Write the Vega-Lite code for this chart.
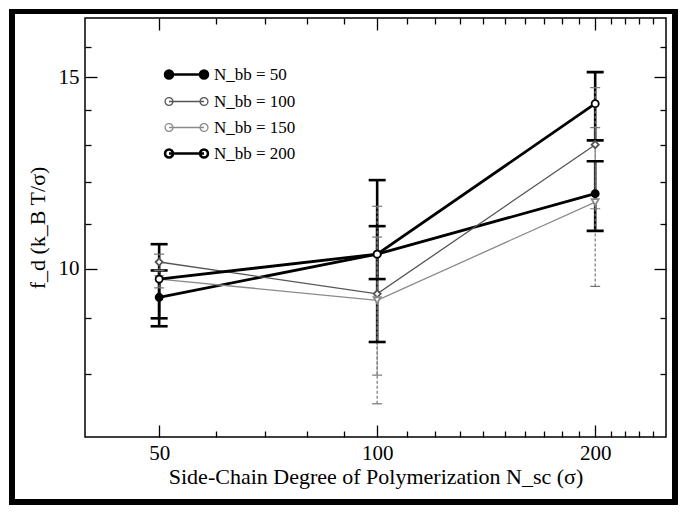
{
  "$schema": "https://vega.github.io/schema/vega-lite/v6.json",
  "width": 581,
  "height": 419,
  "autosize": {"type": "none"},
  "padding": {"left": 85, "top": 18, "right": 16, "bottom": 77},
  "background": "white",
  "config": {
    "view": {"stroke": "black", "strokeWidth": 1.5},
    "font": "Liberation Serif",
    "axis": {
      "labelFont": "Liberation Serif", "titleFont": "Liberation Serif",
      "labelFontSize": 21, "titleFontSize": 22, "labelColor": "black", "titleColor": "black",
      "tickColor": "black", "tickWidth": 1.3, "grid": false, "domain": false, "titleFontWeight": "normal"
    }
  },
  "data": {"values": [
    {"Nbb": "50", "Nsc": 50, "fd": 9.41, "lo": 8.85, "hi": 9.96},
    {"Nbb": "50", "Nsc": 100, "fd": 10.31, "lo": 9.78, "hi": 10.94},
    {"Nbb": "50", "Nsc": 200, "fd": 11.72, "lo": 10.83, "hi": 12.55},
    {"Nbb": "100", "Nsc": 50, "fd": 10.14, "lo": 9.96, "hi": 10.31},
    {"Nbb": "100", "Nsc": 100, "fd": 9.48, "lo": 7.51, "hi": 11.41},
    {"Nbb": "100", "Nsc": 200, "fd": 13.0, "lo": 11.35, "hi": 14.67},
    {"Nbb": "150", "Nsc": 50, "fd": 9.78, "lo": 9.6, "hi": 9.96},
    {"Nbb": "150", "Nsc": 100, "fd": 9.35, "lo": 7.98, "hi": 10.69},
    {"Nbb": "150", "Nsc": 200, "fd": 11.51, "lo": 9.63, "hi": 13.48},
    {"Nbb": "200", "Nsc": 50, "fd": 9.78, "lo": 9.0, "hi": 10.53},
    {"Nbb": "200", "Nsc": 100, "fd": 10.31, "lo": 8.56, "hi": 12.06},
    {"Nbb": "200", "Nsc": 200, "fd": 14.18, "lo": 13.12, "hi": 15.16}
  ]},
  "resolve": {"axis": {"x": "independent", "y": "independent"}},
  "layer": [
    {
      "mark": {"type": "rect", "filled": false, "stroke": "black", "strokeWidth": 5, "clip": false},
      "encoding": {
        "x": {"datum": 31.3, "type": "quantitative", "axis": null},
        "x2": {"datum": 257.6},
        "y": {"datum": 17.24, "type": "quantitative", "axis": null},
        "y2": {"datum": 6.1}
      }
    },
    {
      "transform": [{"filter": "datum.Nbb == '50' || datum.Nbb == '200'"}],
      "mark": {"type": "rule", "color": "black", "strokeWidth": 2.6},
      "encoding": {
        "x": {"field": "Nsc", "type": "quantitative", "axis": null},
        "y": {"field": "lo", "type": "quantitative", "axis": null},
        "y2": {"field": "hi"}
      }
    },
    {
      "transform": [{"filter": "datum.Nbb == '100' || datum.Nbb == '150'"}],
      "mark": {"type": "rule", "color": "#777777", "strokeWidth": 1.2, "strokeDash": [3, 2]},
      "encoding": {
        "x": {"field": "Nsc", "type": "quantitative", "axis": null},
        "y": {"field": "lo", "type": "quantitative", "axis": null},
        "y2": {"field": "hi"}
      }
    },
    {
      "transform": [{"filter": "datum.Nbb == '50' || datum.Nbb == '200'"}],
      "mark": {"type": "tick", "orient": "horizontal", "color": "black", "size": 17, "thickness": 2.6, "opacity": 1},
      "encoding": {
        "x": {"field": "Nsc", "type": "quantitative", "axis": null},
        "y": {"field": "lo", "type": "quantitative", "axis": null}
      }
    },
    {
      "transform": [{"filter": "datum.Nbb == '50' || datum.Nbb == '200'"}],
      "mark": {"type": "tick", "orient": "horizontal", "color": "black", "size": 17, "thickness": 2.6, "opacity": 1},
      "encoding": {
        "x": {"field": "Nsc", "type": "quantitative", "axis": null},
        "y": {"field": "hi", "type": "quantitative", "axis": null}
      }
    },
    {
      "transform": [{"filter": "datum.Nbb == '100' || datum.Nbb == '150'"}],
      "mark": {"type": "tick", "orient": "horizontal", "color": "#777777", "size": 10, "thickness": 1.2, "opacity": 1},
      "encoding": {
        "x": {"field": "Nsc", "type": "quantitative", "axis": null},
        "y": {"field": "lo", "type": "quantitative", "axis": null}
      }
    },
    {
      "transform": [{"filter": "datum.Nbb == '100' || datum.Nbb == '150'"}],
      "mark": {"type": "tick", "orient": "horizontal", "color": "#777777", "size": 10, "thickness": 1.2, "opacity": 1},
      "encoding": {
        "x": {"field": "Nsc", "type": "quantitative", "axis": null},
        "y": {"field": "hi", "type": "quantitative", "axis": null}
      }
    },
    {
      "mark": {"type": "line"},
      "encoding": {
        "x": {
          "field": "Nsc", "type": "quantitative",
          "scale": {"type": "log", "domain": [39.5, 250.5], "nice": false},
          "axis": {
            "orient": "bottom",
            "values": [50, 60, 70, 80, 90, 100, 110, 120, 130, 140, 150, 160, 170, 180, 190, 200, 210, 220, 230, 240],
            "labelExpr": "datum.value == 50 || datum.value == 100 || datum.value == 200 ? format(datum.value, 'd') : ''",
            "tickSize": {"condition": {"test": "datum.value == 50 || datum.value == 100 || datum.value == 200", "value": -12}, "value": -6},
            "labelPadding": 17,
            "labelFlush": false,
            "title": "Side-Chain Degree of Polymerization  N_sc (σ)",
            "titlePadding": 3
          }
        },
        "y": {
          "field": "fd", "type": "quantitative",
          "scale": {"type": "log", "domain": [7, 17], "nice": false},
          "axis": {
            "orient": "left",
            "values": [8, 9, 10, 11, 12, 13, 14, 15, 16],
            "labelExpr": "datum.value == 10 || datum.value == 15 ? format(datum.value, 'd') : ''",
            "tickSize": {"condition": {"test": "datum.value == 10 || datum.value == 15", "value": -12}, "value": -6},
            "labelPadding": 18,
            "labelFlush": false,
            "title": "f_d (k_B T/σ)",
            "titlePadding": 9
          }
        },
        "stroke": {
          "field": "Nbb", "type": "nominal",
          "scale": {"domain": ["50", "100", "150", "200"], "range": ["#000000", "#555555", "#8a8a8a", "#000000"]},
          "legend": {
            "orient": "none", "legendX": 93, "legendY": 48, "title": null,
            "labelExpr": "'N_bb = ' + datum.label",
            "symbolType": "M-1.59,0L1.59,0M-1.95,0a0.36,0.36 0 1,0 0.72,0a0.36,0.36 0 1,0 -0.72,0M1.23,0a0.36,0.36 0 1,0 0.72,0a0.36,0.36 0 1,0 -0.72,0",
            "symbolSize": 484,
            "symbolFillColor": "white",
            "labelFont": "Liberation Serif", "labelFontSize": 17, "labelColor": "black",
            "labelOffset": 19, "rowPadding": 8,
            "encoding": {
              "symbols": {
                "strokeWidth": {"value": {"expr": "datum.value == '50' || datum.value == '200' ? 2.6 : 1.3"}},
                "fill": {"value": {"expr": "datum.value == '50' ? 'black' : 'white'"}}
              }
            }
          }
        },
        "strokeWidth": {
          "field": "Nbb", "type": "nominal", "legend": null,
          "scale": {"type": "ordinal", "domain": ["50", "100", "150", "200"], "range": [2.8, 1.3, 1.3, 2.8]}
        },
        "detail": {"field": "Nbb"}
      }
    },
    {
      "mark": {"type": "point", "size": 50, "opacity": 1, "strokeWidth": 1.8},
      "encoding": {
        "x": {"field": "Nsc", "type": "quantitative", "axis": null},
        "y": {"field": "fd", "type": "quantitative", "axis": null},
        "shape": {
          "field": "Nbb", "type": "nominal", "legend": null,
          "scale": {"domain": ["200", "150", "100", "50"], "range": ["circle", "triangle-down", "diamond", "circle"]}
        },
        "fill": {
          "field": "Nbb", "type": "nominal", "legend": null,
          "scale": {"domain": ["200", "150", "100", "50"], "range": ["#ffffff", "#ffffff", "#ffffff", "#000000"]}
        },
        "stroke": {
          "field": "Nbb", "type": "nominal", "legend": null,
          "scale": {"domain": ["200", "150", "100", "50"], "range": ["#000000", "#8a8a8a", "#555555", "#000000"]}
        }
      }
    },
    {
      "mark": {"type": "point", "opacity": 0},
      "encoding": {
        "x": {
          "field": "Nsc", "type": "quantitative",
          "axis": {
            "orient": "top", "labels": false, "title": null,
            "values": [50, 60, 70, 80, 90, 100, 110, 120, 130, 140, 150, 160, 170, 180, 190, 200, 210, 220, 230, 240],
            "tickSize": {"condition": {"test": "datum.value == 50 || datum.value == 100 || datum.value == 200", "value": -12}, "value": -6}
          }
        },
        "y": {
          "field": "fd", "type": "quantitative",
          "axis": {
            "orient": "right", "labels": false, "title": null,
            "values": [8, 9, 10, 11, 12, 13, 14, 15, 16],
            "tickSize": {"condition": {"test": "datum.value == 10 || datum.value == 15", "value": -12}, "value": -6}
          }
        }
      }
    }
  ]
}
